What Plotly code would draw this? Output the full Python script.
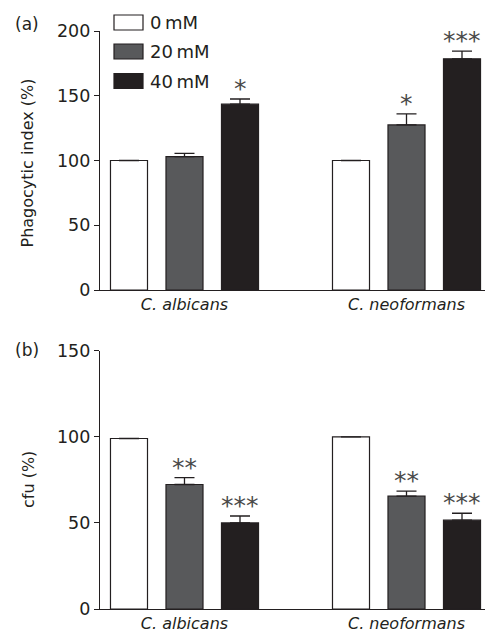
import plotly.graph_objects as go

categories = ["C. albicans", "C. neoformans"]
series_names = ["0 mM", "20 mM", "40 mM"]
colors = ["#ffffff", "#58595b", "#231f20"]

# Panel (a): phagocytic index (%)
phago_vals = {"0 mM": [100, 100], "20 mM": [103, 127.5], "40 mM": [143.5, 178.5]}
phago_err = {"0 mM": [0, 0], "20 mM": [2.5, 8.5], "40 mM": [4, 6]}
phago_sig = {"0 mM": ["", ""], "20 mM": ["", "*"], "40 mM": ["*", "***"]}

# Panel (b): cfu (%)
cfu_vals = {"0 mM": [99, 100], "20 mM": [72.3, 65.5], "40 mM": [50, 51.6]}
cfu_err = {"0 mM": [0, 0], "20 mM": [4, 3], "40 mM": [4, 4]}
cfu_sig = {"0 mM": ["", ""], "20 mM": ["**", "**"], "40 mM": ["***", "***"]}

W, H = 485, 636
ML, MR, MT, MB = 100, 0, 31, 27
PH = H - MT - MB
def py(px):
    return (H - MB - px) / PH
def pxx(px):
    return (px - ML) / (W - ML - MR)

INK = "#231f20"
FONT = "DejaVu Sans"

fig = go.Figure()
for i, name in enumerate(series_names):
    fig.add_trace(go.Bar(
        x=categories, y=phago_vals[name], name=name,
        marker=dict(color=colors[i], line=dict(color=INK, width=1.2)),
        error_y=dict(type="data", array=phago_err[name], arrayminus=[0, 0], symmetric=False,
                     color=INK, thickness=1.3, width=10, visible=True),
        xaxis="x", yaxis="y", showlegend=False))
for i, name in enumerate(series_names):
    fig.add_trace(go.Bar(
        x=categories, y=cfu_vals[name], name=name,
        marker=dict(color=colors[i], line=dict(color=INK, width=1.2)),
        error_y=dict(type="data", array=cfu_err[name], arrayminus=[0, 0], symmetric=False,
                     color=INK, thickness=1.3, width=10, visible=True),
        xaxis="x2", yaxis="y2", showlegend=False))

annotations = []
shapes = []
# significance stars
for i, name in enumerate(series_names):
    off = (i - 1) * 0.25
    for j in range(len(categories)):
        for vals, errs, sig, xr, yr in ((phago_vals, phago_err, phago_sig, "x", "y"),
                                         (cfu_vals, cfu_err, cfu_sig, "x2", "y2")):
            s = sig[name][j]
            if s:
                annotations.append(dict(
                    x=j + off, y=vals[name][j] + errs[name][j], xref=xr, yref=yr,
                    text=s, showarrow=False, yanchor="bottom", yshift=-6,
                    font=dict(family=FONT, size=25, color="#4a4a4a")))

# legend (drawn boxes + labels)
row_centers = [22.5, 51.5, 81]
for i, name in enumerate(series_names):
    yc = row_centers[i]
    shapes.append(dict(type="rect", xref="paper", yref="paper",
                       x0=pxx(114), x1=pxx(143), y0=py(yc + 7.5), y1=py(yc - 7.5),
                       line=dict(color=INK, width=1.2), fillcolor=colors[i]))
    annotations.append(dict(x=pxx(148), y=py(yc), xref="paper", yref="paper",
                            text=name.replace(" ", "\u2009"), showarrow=False,
                            xanchor="left", yanchor="middle",
                            font=dict(family=FONT, size=18, color=INK)))

# panel labels
annotations.append(dict(x=pxx(13), y=py(24), xref="paper", yref="paper", text="(a)",
                        showarrow=False, xanchor="left", yanchor="middle",
                        font=dict(family=FONT, size=17, color=INK)))
annotations.append(dict(x=pxx(13), y=py(350), xref="paper", yref="paper", text="(b)",
                        showarrow=False, xanchor="left", yanchor="middle",
                        font=dict(family=FONT, size=17, color=INK)))
# axis titles
annotations.append(dict(x=pxx(27.5), y=py(163), xref="paper", yref="paper",
                        text="Phagocytic index (%)", textangle=-90, showarrow=False,
                        xanchor="center", yanchor="middle",
                        font=dict(family=FONT, size=16, color=INK)))
annotations.append(dict(x=pxx(28), y=py(480), xref="paper", yref="paper",
                        text="cfu (%)", textangle=-90, showarrow=False,
                        xanchor="center", yanchor="middle",
                        font=dict(family=FONT, size=16, color=INK)))

xr = [-0.3806, 1.3536]
xaxis_common = dict(range=xr, showline=True, linecolor=INK, linewidth=1.3, ticks="",
                    showgrid=False, zeroline=False,
                    tickfont=dict(family=FONT, size=16, color=INK, style="italic"))
yaxis_common = dict(showline=True, linecolor=INK, linewidth=1.3, ticks="outside", ticklen=5,
                    tickcolor=INK, tickwidth=1.3, showgrid=False, zeroline=False,
                    tickfont=dict(family=FONT, size=17.5, color=INK))

fig.update_layout(
    width=W, height=H,
    margin=dict(l=ML, r=MR, t=MT, b=MB),
    paper_bgcolor="white", plot_bgcolor="white",
    barmode="group", bargap=0.25, bargroupgap=0.333,
    xaxis=dict(domain=[0, 1], anchor="y", **xaxis_common),
    yaxis=dict(domain=[py(290), 1], anchor="x", range=[0, 200],
               tickvals=[0, 50, 100, 150, 200], **yaxis_common),
    xaxis2=dict(domain=[0, 1], anchor="y2", **xaxis_common),
    yaxis2=dict(domain=[0, py(350.7)], anchor="x2", range=[0, 150],
                tickvals=[0, 50, 100, 150], **yaxis_common),
    annotations=annotations, shapes=shapes,
    font=dict(family=FONT, color=INK),
)

fig.write_html("out.html", config={"displayModeBar": False},
               post_script="document.body.style.margin='0';document.body.style.padding='0';"
                           "document.body.style.overflow='hidden';")
